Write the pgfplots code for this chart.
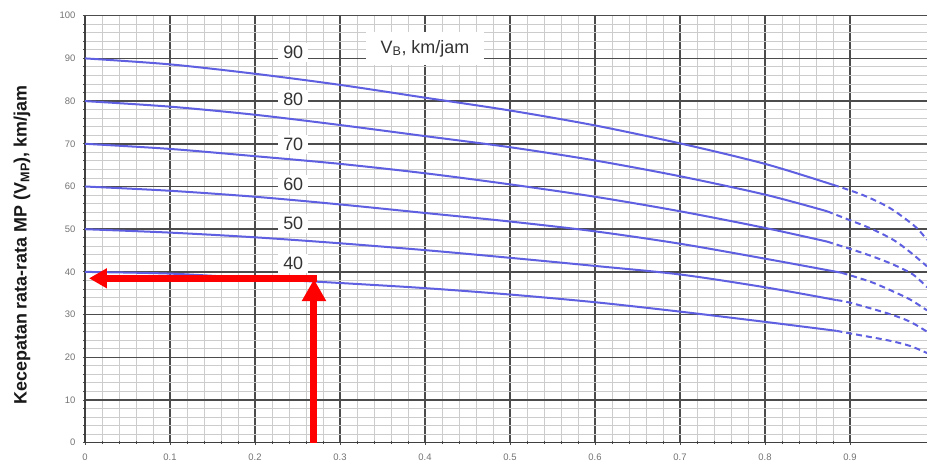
\documentclass[border=0pt]{standalone}
\usepackage{pgfplots}
\pgfplotsset{compat=1.18}
\usepackage{fontspec}
\setmainfont{Liberation Sans}
\usetikzlibrary{arrows.meta}
\definecolor{curve}{RGB}{95,95,225}
\definecolor{arrowred}{RGB}{255,0,0}
\definecolor{lbl}{RGB}{51,51,51}
\begin{document}
\begin{tikzpicture}
\begin{axis}[
  at={(0,0)}, anchor=south west,
  scale only axis, width=842bp, height=427bp,
  xmin=0, xmax=0.9906, ymin=0, ymax=100,
  axis x line=bottom, axis y line=left,
  axis line style={-, black!75, line width=1.2bp},
  xtick={0,0.1,0.2,0.3,0.4,0.5,0.6,0.7,0.8,0.9},
  ytick={0,10,20,30,40,50,60,70,80,90,100},
  minor x tick num=4, minor y tick num=4,
  grid=both,
  major grid style={black!70, line width=1.5bp},
  minor grid style={black!20, line width=0.9bp},
  tick style={black!70, line width=0.9bp},
  major tick length=4bp, minor tick length=3bp, tick align=center,
  ticklabel style={font=\fontsize{9.5}{10}\selectfont, text=black!55},
  /pgf/number format/assume math mode=true,
  xticklabel style={yshift=-6bp},
  yticklabel style={xshift=-4bp},
  ylabel={Kecepatan rata-rata MP (V\textsubscript{MP}), km/jam},
  ylabel style={at={(axis description cs:-0.0748,0.463)}, anchor=center, rotate=0,
    font=\fontsize{18}{20}\selectfont\bfseries, text=black!90},
]
% curve labels
\node[fill=white, inner xsep=5bp, inner ysep=3bp, text=lbl, font=\fontsize{18}{20}\selectfont] at (axis cs:0.245,91.4) {90};
\node[fill=white, inner xsep=5bp, inner ysep=3bp, text=lbl, font=\fontsize{18}{20}\selectfont] at (axis cs:0.245,80.3) {80};
\node[fill=white, inner xsep=5bp, inner ysep=3bp, text=lbl, font=\fontsize{18}{20}\selectfont] at (axis cs:0.245,69.8) {70};
\node[fill=white, inner xsep=5bp, inner ysep=3bp, text=lbl, font=\fontsize{18}{20}\selectfont] at (axis cs:0.245,60.4) {60};
\node[fill=white, inner xsep=5bp, inner ysep=3bp, text=lbl, font=\fontsize{18}{20}\selectfont] at (axis cs:0.245,51.3) {50};
\node[fill=white, inner xsep=5bp, inner ysep=3bp, text=lbl, font=\fontsize{18}{20}\selectfont] at (axis cs:0.245,41.9) {40};
\node[fill=white, inner xsep=15bp, inner ysep=8bp, text=lbl, font=\fontsize{18}{20}\selectfont] at (axis cs:0.400,92.3) {V\textsubscript{B}, km/jam};

% solid parts
\addplot[curve, line width=2bp, smooth] coordinates {(0,90) (0.1,88.6) (0.2,86.4) (0.3,83.8) (0.4,80.8) (0.5,77.8) (0.6,74.3) (0.7,70.1) (0.8,65.3) (0.880,60.4)};
\addplot[curve, line width=2bp, smooth] coordinates {(0,80) (0.1,78.7) (0.2,76.8) (0.3,74.4) (0.4,71.8) (0.5,69.2) (0.6,66.1) (0.7,62.4) (0.8,58.1) (0.873,54.2)};
\addplot[curve, line width=2bp, smooth] coordinates {(0,70) (0.1,68.8) (0.2,67.1) (0.3,65.3) (0.4,63.1) (0.5,60.5) (0.6,57.6) (0.7,54.2) (0.8,50.3) (0.873,47.1)};
\addplot[curve, line width=2bp, smooth] coordinates {(0,60) (0.1,59.0) (0.2,57.6) (0.3,55.8) (0.4,53.8) (0.5,51.8) (0.6,49.5) (0.7,46.6) (0.8,43.1) (0.890,39.8)};
\addplot[curve, line width=2bp, smooth] coordinates {(0,50) (0.1,49.2) (0.2,48.1) (0.3,46.7) (0.4,45.1) (0.5,43.3) (0.6,41.4) (0.7,39.4) (0.8,36.4) (0.884,33.4)};
\addplot[curve, line width=2bp, smooth] coordinates {(0,40) (0.1,39.6) (0.2,38.5) (0.3,37.4) (0.4,36.2) (0.5,34.7) (0.6,32.9) (0.7,30.7) (0.8,28.3) (0.884,26.2)};
% dashed tails
\addplot[curve, line width=2bp, smooth, dash pattern=on 6bp off 4bp] coordinates {(0.880,60.4) (0.900,59.1) (0.920,57.6) (0.944,55.3) (0.962,52.9) (0.979,50.2) (0.9906,47.5)};
\addplot[curve, line width=2bp, smooth, dash pattern=on 6bp off 4bp] coordinates {(0.873,54.2) (0.900,52.1) (0.924,50.2) (0.951,47.5) (0.971,44.6) (0.9906,41.3)};
\addplot[curve, line width=2bp, smooth, dash pattern=on 6bp off 4bp] coordinates {(0.873,47.1) (0.900,45.4) (0.924,43.8) (0.950,41.8) (0.974,39.4) (0.9906,36.4)};
\addplot[curve, line width=2bp, smooth, dash pattern=on 6bp off 4bp] coordinates {(0.890,39.8) (0.924,37.7) (0.951,35.4) (0.971,33.5) (0.9906,31.0)};
\addplot[curve, line width=2bp, smooth, dash pattern=on 6bp off 4bp] coordinates {(0.884,33.4) (0.900,32.8) (0.944,30.3) (0.970,28.4) (0.9906,26.0)};
\addplot[curve, line width=2bp, smooth, dash pattern=on 6bp off 4bp] coordinates {(0.884,26.2) (0.900,25.6) (0.944,24.0) (0.970,22.7) (0.9906,21.0)};
% red arrows
\addplot[arrowred, line width=7bp, -{Triangle[length=22bp,width=23bp]}] coordinates {(0.2694,0) (0.2694,38.3)};
\addplot[arrowred, line width=7bp, -{Triangle[length=18bp,width=19bp]}] coordinates {(0.2735,38.5) (0.0047,38.5)};
\end{axis}
\pgfresetboundingbox
\path[use as bounding box] (-85bp,-20.3bp) rectangle (842bp,442.7bp);
\end{tikzpicture}
\end{document}
